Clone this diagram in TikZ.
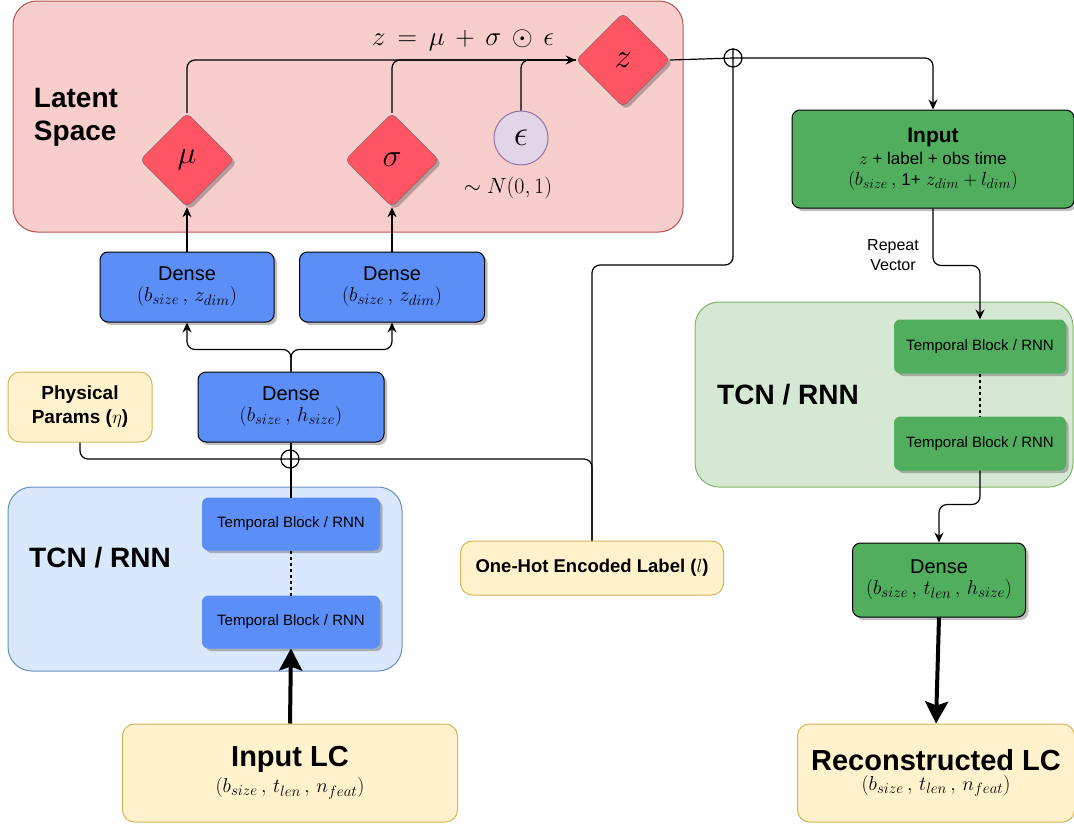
\RequirePackage{fix-cm}
\documentclass[tikz,border=0pt]{standalone}
\usepackage{amsmath}
\usepackage[no-math]{fontspec}
\setmainfont{Liberation Sans}
\usetikzlibrary{shapes.geometric,shadows,arrows.meta}

\definecolor{latentfill}{HTML}{F8CECC}
\definecolor{latentdraw}{HTML}{B85450}
\definecolor{diamred}{HTML}{FF5464}
\definecolor{epsfill}{HTML}{E1D5E7}
\definecolor{epsdraw}{HTML}{9673A6}
\definecolor{blockblue}{HTML}{5B8EF7}
\definecolor{bluebg}{HTML}{DAE8FC}
\definecolor{bluebd}{HTML}{6C8EBF}
\definecolor{blockgreen}{HTML}{50AE5E}
\definecolor{greenbg}{HTML}{D5E8D4}
\definecolor{greenbd}{HTML}{82B366}
\definecolor{yelfill}{HTML}{FFF2CC}
\definecolor{yeldraw}{HTML}{D6B656}

\newcommand{\setfs}[2]{\fontsize{#1}{#2}\selectfont}
\DeclareMathSizes{19}{19}{14}{10}
\DeclareMathSizes{20}{20}{15}{10}

\begin{document}
\begin{tikzpicture}[x=1pt, y=-1pt,
    boxshadow/.style={drop shadow={shadow xshift=3pt, shadow yshift=-3pt, fill=black, opacity=.25}},
    wire/.style={line width=1.2pt, rounded corners=8pt},
    flow/.style={wire, -{Stealth[length=10pt, width=9pt]}},
    fat/.style={line width=4pt, -{Stealth[length=22pt, width=23pt, inset=4pt]}},
    ctrbox/.style={rectangle, rounded corners=24pt, line width=1pt},
    head/.style={font=\setfs{28}{33}\bfseries},
    diam/.style={diamond, draw=black!60, fill=diamred, minimum width=94pt, minimum height=94pt,
        inner sep=0pt, rounded corners=5pt, font=\setfs{32}{36}, boxshadow},
    epsnode/.style={circle, draw=epsdraw, fill=epsfill, line width=1pt, minimum size=54pt,
        inner sep=0pt, font=\setfs{36}{40}},
    layerbox/.style={rectangle, rounded corners=8pt, draw=black, line width=1pt, align=center,
        minimum height=70pt, font=\setfs{20}{24}, boxshadow},
    blockbox/.style={rectangle, rounded corners=6pt, line width=1pt, minimum height=52pt,
        font=\setfs{15}{18}, boxshadow},
    ybox/.style={rectangle, rounded corners=12pt, draw=yeldraw, fill=yelfill, line width=1pt, align=center},
    cat/.style={circle, draw, line width=1.2pt, minimum size=18pt, inner sep=0pt}
]
\useasboundingbox (0,0) rectangle (1074,825);

% latent space
\node[ctrbox, fill=latentfill, draw=latentdraw, minimum width=670pt, minimum height=231pt] (latent) at (348,116.5) {};
\node[head, align=left] (latentlbl) at (76,117) {Latent\\Space};
\node[diam] (mu) at (187,160) {$\mu$};
\node[diam] (sigma) at (392,160) {$\sigma$};
\node[epsnode] (eps) at (521,138) {$\epsilon$};
\node[font=\setfs{22}{26}] (normal) at (508,188) {$\sim N(0,1)$};
\node[diam, font=\setfs{34}{36}] (zz) at (623,60) {$z$};
\node[font=\setfs{27}{30}] (formula) at (463,40) {$z \,=\, \mu \,+\, \sigma \,\odot\, \epsilon$};

% encoder
\node[layerbox, fill=blockblue, minimum width=174pt] (densemu) at (187,287)
    {Dense\\[-3pt]{\setfs{20}{22}$(b_{size}\,,\,z_{dim})$}};
\node[layerbox, fill=blockblue, minimum width=185pt] (densesig) at (392,287)
    {Dense\\[-3pt]{\setfs{20}{22}$(b_{size}\,,\,z_{dim})$}};
\node[layerbox, fill=blockblue, minimum width=186pt] (denseh) at (291,407)
    {Dense\\[-3pt]{\setfs{20}{22}$(b_{size}\,,\,h_{size})$}};
\node[ybox, minimum width=144pt, minimum height=70pt, font=\setfs{19}{24}\bfseries] (phys) at (80,407)
    {Physical\\Params ($\eta$)};
\node[cat] (catA) at (290,459) {};

\node[ctrbox, fill=bluebg, draw=bluebd, minimum width=394pt, minimum height=184pt] (tcnL) at (205,579) {};
\node[head] (tcnLlbl) at (100,558) {TCN / RNN};
\node[blockbox, fill=blockblue, draw=blockblue, minimum width=177pt] (tbL1) at (291,524) {Temporal Block / RNN};
\node[blockbox, fill=blockblue, draw=blockblue, minimum width=177pt] (tbL2) at (291,622) {Temporal Block / RNN};

\node[ybox, minimum width=335pt, minimum height=98pt] (inlc) at (290,773)
    {{\setfs{29}{30}\bfseries Input LC}\\[4pt]{\setfs{20}{22}$(b_{size}\,,\,t_{len}\,,\,n_{feat})$}};
\node[ybox, minimum width=263pt, minimum height=54pt, font=\setfs{18.5}{22}\bfseries] (onehot) at (592,568)
    {One-Hot Encoded Label ($l$)};
\node[cat] (catB) at (733,58) {};
\coordinate (lblturn) at (592,265);

% decoder
\node[layerbox, fill=blockgreen, minimum width=282pt, minimum height=98pt] (inputg) at (933,159)
    {{\setfs{21}{24}\bfseries Input}\\[-2pt]{\setfs{17}{20}$z$ + label + obs time}\\[-3pt]
     {\setfs{19}{20}\mdseries$(b_{size}\,,$ {\setfs{17}{20}1+} $z_{dim} + l_{dim})$}};
\node[align=center, font=\setfs{16}{20}] (rvlbl) at (893,255) {Repeat\\Vector};

\node[ctrbox, fill=greenbg, draw=greenbd, minimum width=378pt, minimum height=185pt] (tcnR) at (884,394.5) {};
\node[head] (tcnRlbl) at (788,395) {TCN / RNN};
\node[blockbox, fill=blockgreen, draw=blockgreen, minimum width=171pt, minimum height=53pt] (tbR1) at (980,346.5) {Temporal Block / RNN};
\node[blockbox, fill=blockgreen, draw=blockgreen, minimum width=171pt, minimum height=53pt] (tbR2) at (980,443.5) {Temporal Block / RNN};

\node[layerbox, fill=blockgreen, minimum width=173pt, minimum height=74pt] (denseo) at (939,580)
    {Dense\\[-3pt]{\setfs{20}{22}$(b_{size}\,,\,t_{len}\,,\,h_{size})$}};
\node[ybox, minimum width=277pt, minimum height=98pt] (recon) at (936,773)
    {{\setfs{29}{30}\bfseries Reconstructed LC}\\[4pt]{\setfs{20}{22}$(b_{size}\,,\,t_{len}\,,\,n_{feat})$}};

% connectors
\draw[flow] (mu.north) |- (zz.west);
\draw[wire] (sigma.north) |- (zz.west);
\draw[wire] (eps.north) |- (zz.west);
\draw[flow] (densemu.north) -- (mu.south);
\draw[flow] (densesig.north) -- (sigma.south);
\draw[flow] (denseh.north) -- ++(0,-22) -| (densemu.south);
\draw[flow] (denseh.north) -- ++(0,-22) -| (densesig.south);
\draw[wire] (tbL1.north) -- (denseh.south);
\draw[wire] (phys.south) |- (catA.center) -| (onehot.north);
\draw[wire] (onehot.north) -- (lblturn) -| (catB.north);
\draw[wire, dashed] (tbL1.south) -- (tbL2.north);
\draw[fat] (inlc.north) -- (tbL2.south);
\draw[wire] (zz.east) -- (catB.center);
\draw[flow] (catB.center) -| (inputg.north);
\draw[flow] (inputg.south) -- ++(0,57) -| (tbR1.north);
\draw[wire, dashed] (tbR1.south) -- (tbR2.north);
\draw[flow] (tbR2.south) -- ++(0,34) -| (denseo.north);
\draw[fat] (denseo.south) -- (recon.north);
\end{tikzpicture}
\end{document}
